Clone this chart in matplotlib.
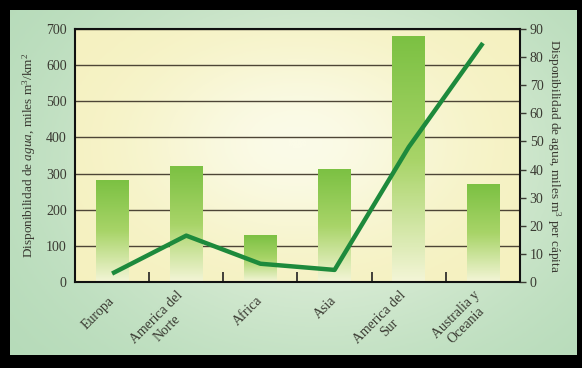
import numpy as np
import matplotlib
matplotlib.use("Agg")
import matplotlib.pyplot as plt
import matplotlib.transforms as mtransforms
from matplotlib.colors import LinearSegmentedColormap

regions = ["Europa", "America del\nNorte", "Africa", "Asia",
           "America del\nSur", "Australia y\nOceania"]
per_km2 = [280, 320, 130, 310, 680, 270]          # miles m3/km2 (left axis)
per_capita = [3, 16.5, 6.5, 4.3, 48, 85]         # miles m3 per capita (right axis)
left_ticks = [0, 100, 200, 300, 400, 500, 600, 700]
right_ticks = [0, 10, 20, 30, 40, 50, 60, 70, 80, 90]

plt.rcParams["font.family"] = ["Liberation Serif", "DejaVu Serif"]
plt.rcParams["mathtext.fontset"] = "custom"
plt.rcParams["mathtext.rm"] = "Liberation Serif"
plt.rcParams["mathtext.it"] = "Liberation Serif:italic"

text_col = "#3a3a32"

fig = plt.figure(figsize=(5.82, 3.68), dpi=100, facecolor="black")

# green backdrop panel inside the black frame
bg = fig.add_axes([10 / 582, 13 / 368, 567 / 582, 345 / 368])
yy, xx = np.mgrid[0:1:200j, 0:1:300j]
glow = np.exp(-(((xx - 0.55) / 0.45) ** 2 + ((yy - 0.45) / 0.55) ** 2))
bg_cmap = LinearSegmentedColormap.from_list("bg", ["#b2d9b6", "#e6f2df"])
bg.imshow(glow, cmap=bg_cmap, aspect="auto", extent=(0, 1, 0, 1), vmin=0, vmax=1)
bg.axis("off")

ax = fig.add_axes([75 / 582, 86 / 368, 445 / 582, 253 / 368])
x = np.arange(len(regions))

# pale yellow plot area with a soft light spot
py, px = np.mgrid[0:1:150j, 0:1:250j]
spot = np.exp(-(((px - 0.5) / 0.35) ** 2 + ((py - 0.55) / 0.4) ** 2))
plot_cmap = LinearSegmentedColormap.from_list("pa", ["#f5f1bf", "#fbfbe8"])
ax.imshow(spot, cmap=plot_cmap, aspect="auto", extent=(-0.5, 5.5, 0, 700),
          vmin=0, vmax=1, zorder=0, origin="lower")

# gradient bars
bar_cmap = LinearSegmentedColormap.from_list("bar", ["#f3f5d6", "#a8d468", "#7cc143"])
grad = np.linspace(0, 1, 100).reshape(-1, 1)
w = 0.44
for xi, v in zip(x, per_km2):
    ax.imshow(grad, cmap=bar_cmap, aspect="auto", origin="lower",
              extent=(xi - w / 2, xi + w / 2, 0, v), zorder=2)
ax.set_xlim(-0.5, len(regions) - 0.5)
ax.set_ylim(0, 700)

ax.set_yticks(left_ticks)
ax.yaxis.grid(True, color="#4d4536", lw=1)
for gl in ax.get_ygridlines():
    gl.set_zorder(1)
ax.tick_params(axis="y", length=0, pad=6, labelsize=10, colors=text_col)
ax.set_xticks(x)
ax.set_xticklabels(regions, rotation=45, ha="right", va="center",
                   rotation_mode="anchor", multialignment="center",
                   fontsize=10, color=text_col)
shift = mtransforms.ScaledTranslation(5 / 100, 0, fig.dpi_scale_trans)
for lbl in ax.get_xticklabels():
    lbl.set_transform(lbl.get_transform() + shift)
ax.tick_params(axis="x", length=0, pad=12)
ax.set_xticks(x[:-1] + 0.5, minor=True)
ax.tick_params(axis="x", which="minor", direction="in", length=7, width=1.2, color="#222")
for s in ax.spines.values():
    s.set_color("#111")
    s.set_linewidth(1.5)
    s.set_zorder(5)
ax.set_ylabel(r"Disponibilidad de $\it{agua}$, miles m$^3$/km$^2$",
              fontsize=9.5, color=text_col, labelpad=6)

ax2 = ax.twinx()
ax2.set_ylim(0, 90)
ax2.set_yticks(right_ticks)
ax2.tick_params(axis="y", length=4, width=1, pad=3, labelsize=10, colors=text_col)
ax2.plot(x, per_capita, color="#1d8a3c", lw=3.2, zorder=4, solid_capstyle="butt")
for s in ax2.spines.values():
    s.set_visible(False)
ax2.set_ylabel("Disponibilidad de agua, miles m$^3$ per cápita", rotation=270,
               fontsize=9.5, color=text_col, labelpad=14)

fig.savefig("out.png", dpi=100, facecolor="black")
